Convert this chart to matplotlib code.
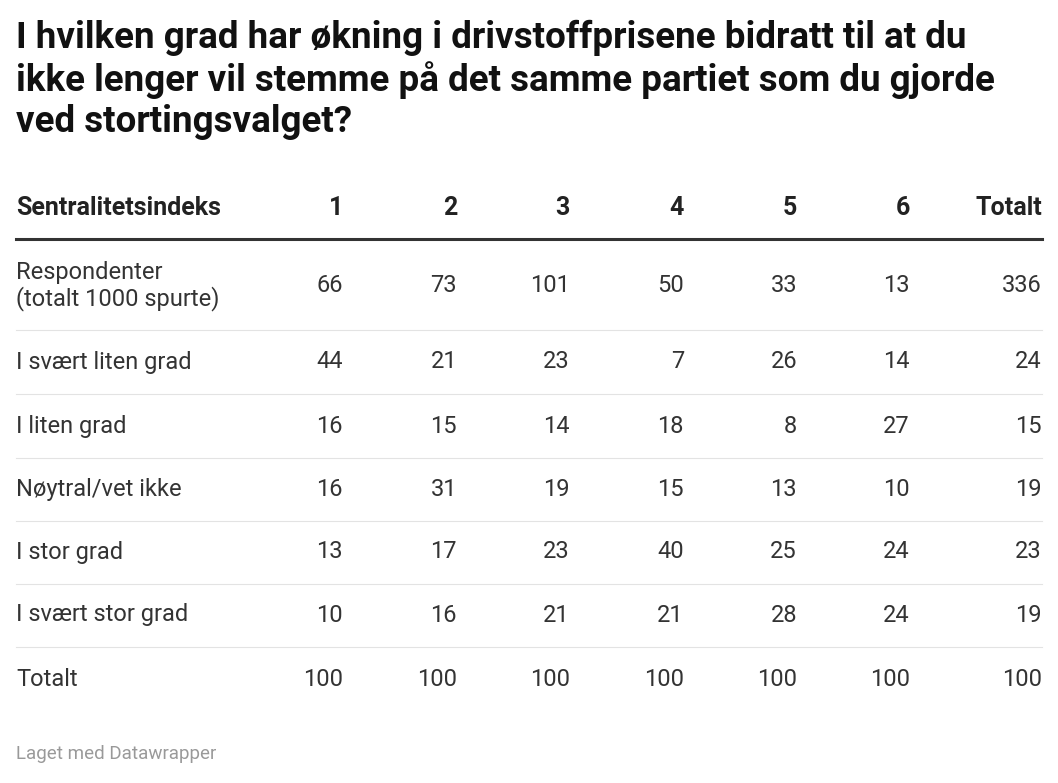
import matplotlib
matplotlib.use("Agg")
import matplotlib.pyplot as plt
from matplotlib.lines import Line2D

title = ["I hvilken grad har økning i drivstoffprisene bidratt til at du",
         "ikke lenger vil stemme på det samme partiet som du gjorde",
         "ved stortingsvalget?"]
header = ["Sentralitetsindeks", "1", "2", "3", "4", "5", "6", "Totalt"]
row_labels = ["Respondenter\n(totalt 1000 spurte)", "I svært liten grad", "I liten grad",
              "Nøytral/vet ikke", "I stor grad", "I svært stor grad", "Totalt"]
values = [
    [66, 73, 101, 50, 33, 13, 336],
    [44, 21, 23, 7, 26, 14, 24],
    [16, 15, 14, 18, 8, 27, 15],
    [16, 31, 19, 15, 13, 10, 19],
    [13, 17, 23, 40, 25, 24, 23],
    [10, 16, 21, 21, 28, 24, 19],
    [100, 100, 100, 100, 100, 100, 100],
]
footer = "Laget med Datawrapper"

W, H = 1058, 783
fig = plt.figure(figsize=(W/100, H/100), dpi=100)
fig.patch.set_facecolor("white")
FONT = "Roboto"

def t(x, y, s, **kw):
    fig.text(x / W, 1 - y / H, s, family=FONT, **kw)

for i, line in enumerate(title):
    t(16, 38 + i * 42, line, fontsize=26.5, weight="bold", va="center", color="#111111")

col_x = [343, 457, 570, 684, 797, 910, 1042]
t(16, 208, header[0], fontsize=18, weight="bold", va="center", color="#222222")
for x, h in zip(col_x, header[1:]):
    t(x, 208, h, fontsize=18, weight="bold", va="center", ha="right", color="#222222")

def hline(y, lw, c):
    fig.add_artist(Line2D([16 / W, 1042 / W], [1 - y / H] * 2, lw=lw, color=c,
                          transform=fig.transFigure))

hline(239, 2.2, "#333333")
row_y = [286, 362, 426, 489, 552, 615, 679]
for i, (lab, y) in enumerate(zip(row_labels, row_y)):
    t(16, y, lab, fontsize=17, va="center", color="#333333", linespacing=1.1)
    for x, v in zip(col_x, values[i]):
        t(x, y, str(v), fontsize=17, va="center", ha="right", color="#333333")
    if i < len(row_y) - 1:
        hline((y + row_y[i + 1]) / 2 + (6 if i == 0 else 0), 0.8, "#e3e3e3")

t(16, 754, footer, fontsize=13.5, va="center", color="#999999")
fig.savefig("out.png", dpi=100)
